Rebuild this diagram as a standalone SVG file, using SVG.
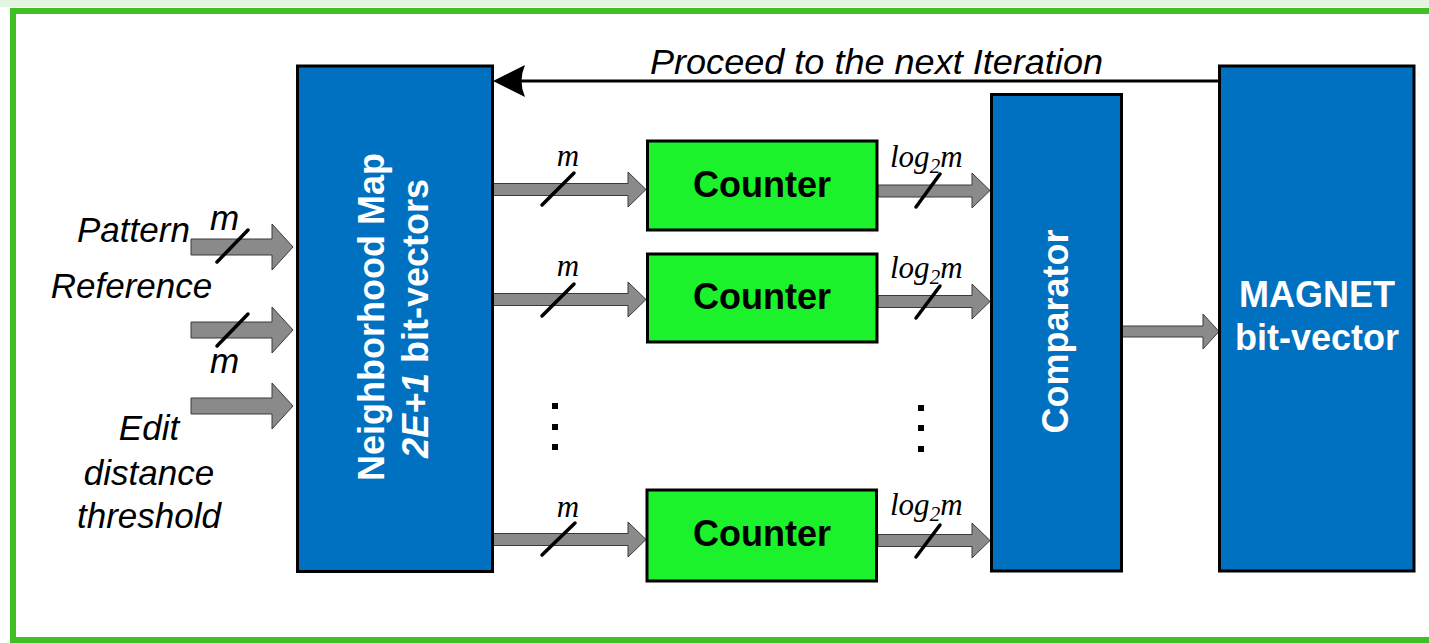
<svg xmlns="http://www.w3.org/2000/svg" width="1429" height="643" viewBox="0 0 1429 643">
<defs>
<style>
.blue{fill:#0070C0;stroke:#000;stroke-width:3}
.green{fill:#1CF22C;stroke:#000;stroke-width:3}
.garrow{fill:#8A8A8A;stroke:#3A3A3A;stroke-width:1}
.slash{stroke:#000;stroke-width:3.5;stroke-linecap:round}
.wb{font-family:"Liberation Sans",Arial,sans-serif;font-weight:bold;font-size:36px;fill:#fff}
.bb{font-family:"Liberation Sans",Arial,sans-serif;font-weight:bold;font-size:36px;fill:#000}
.si{font-family:"Liberation Sans",Arial,sans-serif;font-style:italic;font-size:35px;fill:#000}
.ti{font-family:"Liberation Serif","Times New Roman",serif;font-style:italic;font-size:31px;fill:#000}
.dot{fill:#000}
</style>
</defs>
<rect x="0" y="0" width="1429" height="7" fill="#E4F6E2"/>
<rect x="13" y="11" width="1440" height="629" fill="#fff" stroke="#40C024" stroke-width="6"/>

<g id="connectors">
<line x1="1218" y1="81" x2="520" y2="81" stroke="#000" stroke-width="3"/>
<path d="M493,81 L525,65 Q518,81 525,97 Z" fill="#000"/>
<polygon class="garrow" points="191,239 272,239 272,224 293,247 272,270 272,255 191,255"/>
<polygon class="garrow" points="191,322 272,322 272,307 293,330 272,353 272,338 191,338"/>
<polygon class="garrow" points="191,398 272,398 272,383 293,406 272,429 272,414 191,414"/>
<polygon class="garrow" points="493,183.5 628,183.5 628,172 646,189.5 628,207 628,195.5 493,195.5"/>
<polygon class="garrow" points="493,293.5 628,293.5 628,282 646,299.5 628,317 628,305.5 493,305.5"/>
<polygon class="garrow" points="493,533.5 628,533.5 628,522 646,539.5 628,557 628,545.5 493,545.5"/>
<polygon class="garrow" points="878,185 972,185 972,173 990,190.5 972,208 972,197 878,197"/>
<polygon class="garrow" points="878,295.5 972,295.5 972,284 990,301.5 972,319 972,307.5 878,307.5"/>
<polygon class="garrow" points="878,534.5 972,534.5 972,523 990,540.5 972,558 972,546.5 878,546.5"/>
<polygon class="garrow" points="1122,326 1203,326 1203,314 1219,331.5 1203,349 1203,337 1122,337"/>
<line class="slash" x1="217" y1="262" x2="248" y2="230"/>
<line class="slash" x1="217" y1="346" x2="248" y2="314"/>
<line class="slash" x1="542" y1="205" x2="574" y2="173"/>
<line class="slash" x1="542" y1="316" x2="574" y2="284"/>
<line class="slash" x1="542" y1="555" x2="575" y2="523"/>
<line class="slash" x1="916" y1="207" x2="940" y2="174"/>
<line class="slash" x1="916" y1="318" x2="940" y2="286"/>
<line class="slash" x1="916" y1="557" x2="940" y2="525"/>
<text class="si" x="650" y="74" font-size="36" textLength="453" lengthAdjust="spacingAndGlyphs">Proceed to the next Iteration</text>
<text class="si" x="224.5" y="230" text-anchor="middle">m</text>
<text class="si" x="224.5" y="373" text-anchor="middle">m</text>
<text class="ti" x="568" y="166" text-anchor="middle">m</text>
<text class="ti" x="568" y="276" text-anchor="middle">m</text>
<text class="ti" x="568" y="517" text-anchor="middle">m</text>
<text class="ti" x="890" y="167">log<tspan font-size="21" dy="6">2</tspan><tspan dy="-6">m</tspan></text>
<text class="ti" x="890" y="278">log<tspan font-size="21" dy="6">2</tspan><tspan dy="-6">m</tspan></text>
<text class="ti" x="890" y="515">log<tspan font-size="21" dy="6">2</tspan><tspan dy="-6">m</tspan></text>
</g>

<g id="inputs">
<text class="si" x="77" y="242">Pattern</text>
<text class="si" x="131.5" y="298" text-anchor="middle">Reference</text>
<text class="si" x="149" y="440" text-anchor="middle">Edit</text>
<text class="si" x="149" y="485" text-anchor="middle">distance</text>
<text class="si" x="149" y="528" text-anchor="middle">threshold</text>
</g>

<g id="neighborhood-map">
<rect class="blue" x="297.5" y="66" width="195" height="505.5"/>
<text class="wb" transform="translate(384,317) rotate(-90)" text-anchor="middle">Neighborhood Map</text>
<text class="wb" transform="translate(428,318.5) rotate(-90)" text-anchor="middle"><tspan font-style="italic">2E+1</tspan> bit-vectors</text>
</g>

<g id="counter-1">
<rect class="green" x="647.5" y="141" width="229.5" height="89"/>
<text class="bb" x="762" y="197" text-anchor="middle">Counter</text>
</g>
<g id="counter-2">
<rect class="green" x="647.5" y="254" width="229.5" height="88"/>
<text class="bb" x="762" y="309" text-anchor="middle">Counter</text>
</g>
<g id="counter-n">
<rect class="green" x="647" y="490" width="229.5" height="91"/>
<text class="bb" x="762" y="546" text-anchor="middle">Counter</text>
</g>

<g id="ellipsis">
<rect class="dot" x="552" y="403" width="6" height="6"/>
<rect class="dot" x="552" y="424" width="6" height="6"/>
<rect class="dot" x="552" y="444" width="6" height="6"/>
<rect class="dot" x="918" y="405" width="6" height="6"/>
<rect class="dot" x="918" y="425" width="6" height="6"/>
<rect class="dot" x="918" y="446" width="6" height="6"/>
</g>

<g id="comparator">
<rect class="blue" x="991.5" y="94.5" width="130" height="476.5"/>
<text class="wb" transform="translate(1068,331.5) rotate(-90)" text-anchor="middle">Comparator</text>
</g>

<g id="magnet">
<rect class="blue" x="1219.5" y="66" width="194.5" height="505"/>
<text class="wb" x="1317" y="307" text-anchor="middle">MAGNET</text>
<text class="wb" x="1317" y="350" text-anchor="middle">bit-vector</text>
</g>
</svg>
